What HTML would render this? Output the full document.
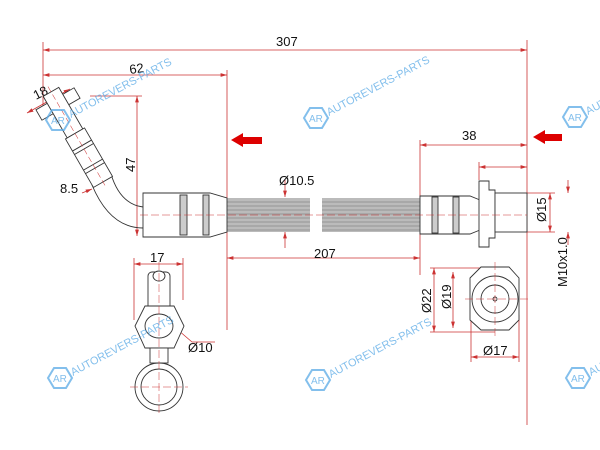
<!DOCTYPE html>
<html><head><meta charset="utf-8"><style>html,body{margin:0;padding:0;background:#fff}svg{display:block}</style></head>
<body>
<svg width="600" height="450" viewBox="0 0 600 450" xmlns="http://www.w3.org/2000/svg" font-family="Liberation Sans, sans-serif">
<defs>
<marker id="a" viewBox="0 0 10 6" refX="10" refY="3" markerWidth="8" markerHeight="5" orient="auto-start-reverse"><path d="M0,0 L10,3 L0,6 z" fill="#c33"/></marker>
<g id="wm" fill="none" stroke="#5aaae6" stroke-width="2" opacity="0.75">
<path d="M-6,-10 L6,-10 L12,0 L6,10 L-6,10 L-12,0 z"/>
<text x="-7" y="4" font-size="10" fill="#5aaae6" stroke="none">AR</text>
<text x="13" y="-2" font-size="11" fill="#5aaae6" stroke="none" transform="rotate(-28 13 -2)">AUTOREVERS-PARTS</text>
</g>
</defs>
<g stroke="#c33" stroke-width="0.8" fill="none">
<line x1="43" y1="42" x2="43" y2="110"/>
<line x1="527" y1="40" x2="527" y2="425"/>
<line x1="43" y1="50" x2="527" y2="50" marker-start="url(#a)" marker-end="url(#a)"/>
<line x1="43" y1="75" x2="227" y2="75" marker-start="url(#a)" marker-end="url(#a)"/>
<line x1="227" y1="70" x2="227" y2="330"/>
<line x1="137" y1="96" x2="137" y2="236" marker-start="url(#a)" marker-end="url(#a)"/>
<line x1="90" y1="96" x2="142" y2="96"/>
<line x1="420" y1="145" x2="527" y2="145" marker-start="url(#a)" marker-end="url(#a)"/>
<line x1="420" y1="140" x2="420" y2="275"/>
<line x1="479" y1="167" x2="527" y2="167" marker-start="url(#a)" marker-end="url(#a)"/>
<line x1="479" y1="162" x2="479" y2="180"/>
<line x1="227" y1="258" x2="420" y2="258" marker-start="url(#a)" marker-end="url(#a)"/>
<line x1="285" y1="180" x2="285" y2="197" marker-end="url(#a)"/>
<line x1="285" y1="248" x2="285" y2="232" marker-end="url(#a)"/>
<line x1="550" y1="193" x2="550" y2="232" marker-start="url(#a)" marker-end="url(#a)"/>
<line x1="527" y1="193" x2="555" y2="193"/><line x1="527" y1="232" x2="555" y2="232"/>
<line x1="568" y1="180" x2="568" y2="193" marker-end="url(#a)"/>
<line x1="568" y1="245" x2="568" y2="232" marker-end="url(#a)"/>
<line x1="434" y1="268" x2="434" y2="332" marker-start="url(#a)" marker-end="url(#a)"/>
<line x1="453" y1="272" x2="453" y2="328" marker-start="url(#a)" marker-end="url(#a)"/>
<line x1="430" y1="268" x2="495" y2="268"/><line x1="430" y1="332" x2="495" y2="332"/>
<line x1="471" y1="357" x2="519" y2="357" marker-start="url(#a)" marker-end="url(#a)"/>
<line x1="471" y1="315" x2="471" y2="362"/><line x1="519" y1="315" x2="519" y2="362"/>
<line x1="134" y1="264" x2="183" y2="264" marker-start="url(#a)" marker-end="url(#a)"/>
<line x1="134" y1="258" x2="134" y2="320"/><line x1="183" y1="258" x2="183" y2="300"/>
<line x1="27" y1="113" x2="70" y2="89" marker-start="url(#a)" marker-end="url(#a)"/>
<line x1="82" y1="193" x2="92" y2="189" marker-end="url(#a)"/>
<line x1="147" y1="333" x2="165" y2="320"/><line x1="178" y1="330" x2="192" y2="342"/><line x1="192" y1="342" x2="215" y2="342"/>
</g>
<g font-size="13" fill="#111">
<text x="276" y="46">307</text><text x="130" y="74" transform="rotate(-8 130 74)">62</text>
<text x="36" y="100" transform="rotate(-27 36 100)">18</text>
<text x="135" y="172" transform="rotate(-90 135 172)">47</text>
<text x="60" y="193">8.5</text><text x="279" y="185">Ø10.5</text>
<text x="314" y="258">207</text><text x="462" y="140">38</text>
<text x="546" y="222" transform="rotate(-90 546 222)">Ø15</text>
<text x="567" y="287" transform="rotate(-90 567 287)">M10x1.0</text>
<text x="431" y="313" transform="rotate(-90 431 313)">Ø22</text>
<text x="451" y="309" transform="rotate(-90 451 309)">Ø19</text>
<text x="483" y="355">Ø17</text><text x="150" y="262">17</text><text x="188" y="352">Ø10</text>
</g>
<g fill="#d00"><path d="M231,140 L243,133 L243,137 L262,137 L262,144 L243,144 L243,147 z"/><path d="M533,137 L545,130 L545,134 L562,134 L562,141 L545,141 L545,144 z"/></g>
<rect x="227" y="198" width="193" height="34" fill="#bbb"/>
<g stroke="#888" stroke-width="0.7"><line x1="227" y1="202" x2="420" y2="202"/><line x1="227" y1="206" x2="420" y2="206"/><line x1="227" y1="210" x2="420" y2="210"/><line x1="227" y1="214" x2="420" y2="214"/><line x1="227" y1="218" x2="420" y2="218"/><line x1="227" y1="222" x2="420" y2="222"/><line x1="227" y1="226" x2="420" y2="226"/><line x1="227" y1="230" x2="420" y2="230"/></g>
<rect x="310" y="196" width="12" height="38" fill="#fff"/>
<g stroke="#333" stroke-width="0.9" fill="#fff">
<path d="M143,193 L210,193 L227,198 L227,232 L210,237 L143,237 z"/>
<rect x="180" y="195" width="7" height="40" fill="#ccc"/><rect x="203" y="195" width="6" height="40" fill="#ccc"/>
<path d="M143,207 Q120,204 111,174" fill="none"/><path d="M143,228 Q110,228 92,185" fill="none"/>
<g transform="translate(58,104) rotate(-30)">
<rect x="-22" y="-6" width="44" height="12"/>
<rect x="-9" y="-14" width="18" height="48"/>
<rect x="-11" y="34" width="22" height="56"/>
<line x1="-11" y1="48" x2="11" y2="48"/><line x1="-11" y1="52" x2="11" y2="52"/>
<line x1="-11" y1="70" x2="11" y2="70"/><line x1="-11" y1="74" x2="11" y2="74"/>
<line x1="0" y1="-20" x2="0" y2="96" stroke="#c33" stroke-width="0.5" stroke-dasharray="6,3"/>
</g>
<path d="M420,196 L470,196 L480,200 L480,230 L470,234 L420,234 z"/>
<rect x="432" y="197" width="6" height="36" fill="#ccc"/><rect x="453" y="197" width="6" height="36" fill="#ccc"/>
<path d="M479,181 L489,181 L489,190 L495,190 L495,238 L489,238 L489,247 L479,247 z"/>
<rect x="495" y="193" width="32" height="39"/>
<path d="M470,278 L481,267 L509,267 L519,278 L519,320 L509,330 L481,330 L470,320 z"/>
<circle cx="495" cy="299" r="23"/><circle cx="495" cy="299" r="14"/><circle cx="495" cy="299" r="2"/>
<rect x="148" y="272" width="22" height="40" rx="4"/><ellipse cx="159" cy="276" rx="6" ry="5"/>
<path d="M145,306 L174,306 L184,326 L174,348 L145,348 L135,326 z"/><ellipse cx="159" cy="326" rx="14" ry="12"/>
<rect x="150" y="348" width="18" height="15"/>
<circle cx="159" cy="387" r="24"/><circle cx="159" cy="387" r="18"/>
</g>
<g stroke="#c33" stroke-width="0.5" stroke-dasharray="8,3" fill="none">
<line x1="140" y1="215" x2="527" y2="215"/><line x1="495" y1="262" x2="495" y2="337"/><line x1="465" y1="299" x2="530" y2="299"/>
<line x1="159" y1="262" x2="159" y2="414"/><line x1="130" y1="387" x2="188" y2="387"/>
</g>
<use href="#wm" x="58" y="120"/><use href="#wm" x="316" y="118"/><use href="#wm" x="575" y="117"/>
<use href="#wm" x="60" y="378"/><use href="#wm" x="318" y="380"/><use href="#wm" x="578" y="378"/>
</svg>
</body></html>
